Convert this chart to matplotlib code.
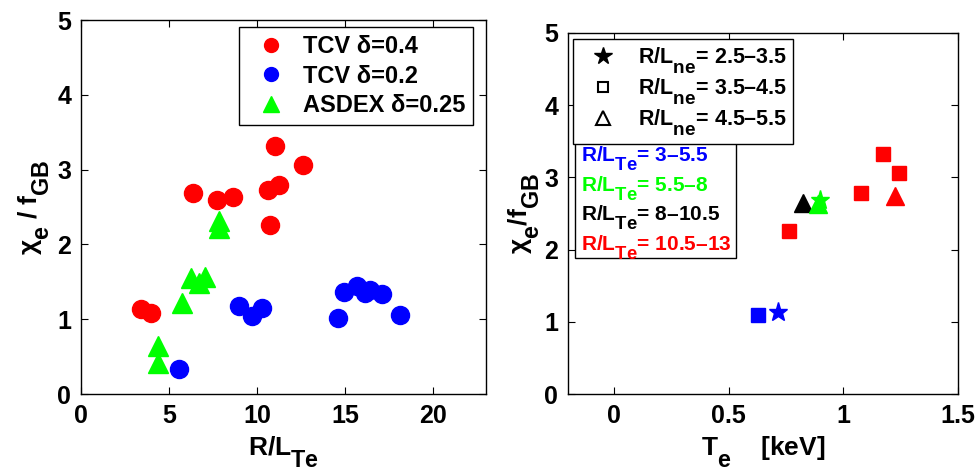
import matplotlib
matplotlib.use("Agg")
import matplotlib.pyplot as plt
from matplotlib.lines import Line2D
from matplotlib.patches import Rectangle
import matplotlib._mathtext as _mt

# MATLAB-like subscripts: larger and lower than TeX defaults
_mt.SHRINK_FACTOR = 0.88
_mt.FontConstantsBase.sub1 = 0.9
_mt.FontConstantsBase.subdrop = 0.6

plt.rcParams['font.family'] = ['Liberation Sans', 'DejaVu Sans']
plt.rcParams['font.weight'] = 'bold'
plt.rcParams['mathtext.fontset'] = 'custom'
plt.rcParams['mathtext.rm'] = 'Liberation Sans:bold'
plt.rcParams['mathtext.bf'] = 'Liberation Sans:bold'
plt.rcParams['mathtext.it'] = 'Liberation Sans:bold'
plt.rcParams['mathtext.sf'] = 'Liberation Sans:bold'

# ---------- left panel data ----------
tcv04_x = [3.4, 3.96, 6.36, 7.7, 8.62, 10.62, 11.26, 11.02, 10.75, 12.6]
tcv04_y = [1.135, 1.08, 2.69, 2.60, 2.64, 2.73, 2.79, 3.32, 2.26, 3.06]
tcv02_x = [5.57, 8.98, 9.72, 10.3, 14.62, 14.96, 15.66, 16.1, 16.4, 17.08, 18.1]
tcv02_y = [0.33, 1.17, 1.04, 1.15, 1.015, 1.37, 1.45, 1.35, 1.39, 1.34, 1.05]
asdex_x = [4.38, 4.38, 5.72, 6.23, 6.7, 7.02, 7.83, 7.83]
asdex_y = [0.64, 0.42, 1.21, 1.55, 1.48, 1.57, 2.31, 2.22]
left_labels = ['TCV δ=0.4', 'TCV δ=0.2', 'ASDEX δ=0.25']

# ---------- right panel data ----------
te_vals  = [0.628, 0.714, 0.765, 0.824, 0.89, 0.90, 1.076, 1.172, 1.243, 1.225]
chi_vals = [1.09, 1.13, 2.26, 2.65, 2.63, 2.69, 2.79, 3.32, 3.06, 2.74]
shape_grp = ['s', '*', 's', '^', '^', '*', 's', 's', 's', '^']
color_grp = ['#0000ff', '#0000ff', '#ff0000', '#000000', '#00ff00', '#00ff00',
             '#ff0000', '#ff0000', '#ff0000', '#ff0000']
rlne_labels = [r'R/L$_{\mathbf{ne}}$= 2.5–3.5', r'R/L$_{\mathbf{ne}}$= 3.5–4.5',
               r'R/L$_{\mathbf{ne}}$= 4.5–5.5']
rlte_labels = [r'R/L$_{\mathbf{Te}}$= 3–5.5', r'R/L$_{\mathbf{Te}}$= 5.5–8',
               r'R/L$_{\mathbf{Te}}$= 8–10.5', r'R/L$_{\mathbf{Te}}$= 10.5–13']
rlte_colors = ['#0000ff', '#00ff00', '#000000', '#ff0000']

W, H = 978, 470
fig = plt.figure(figsize=(W/100, H/100), dpi=100)

def px(x0, y0, x1, y1):
    return [x0/W, 1 - y1/H, (x1-x0)/W, (y1-y0)/H]

axL = fig.add_axes(px(81, 20, 486, 394))
axR = fig.add_axes(px(568, 33, 958, 394))

for ax in (axL, axR):
    ax.tick_params(direction='in', top=True, right=True, labelsize=18, length=5,
                   width=0.8, pad=7)
    for s in ax.spines.values():
        s.set_linewidth(1.0)

# left
axL.plot(tcv04_x, tcv04_y, 'o', color='#ff0000', ms=13, ls='none')
axL.plot(tcv02_x, tcv02_y, 'o', color='#0000ff', ms=13, ls='none')
axL.plot(asdex_x, asdex_y, '^', color='#00ff00', ms=15, ls='none')
axL.set_xlim(0, 23)
axL.set_ylim(0, 5)
axL.set_xticks([0, 5, 10, 15, 20])
axL.set_yticks([0, 1, 2, 3, 4, 5])
axL.set_xlabel(r'R/L$_{\mathbf{Te}}$', fontsize=19, fontweight='bold', labelpad=5)
axL.set_ylabel(r'$\chi_{\mathbf{e}}$ / f$_{\mathbf{GB}}$', fontsize=19, fontweight='bold', labelpad=4)
legL = axL.legend([Line2D([], [], marker='o', color='#ff0000', ls='none', ms=10),
                   Line2D([], [], marker='o', color='#0000ff', ls='none', ms=10),
                   Line2D([], [], marker='^', color='#00ff00', ls='none', ms=11.5)],
                  left_labels, loc='upper left',
                  bbox_to_anchor=(239/W, 1-27/H), bbox_transform=fig.transFigure,
                  borderaxespad=0, prop={'weight': 'bold', 'size': 17},
                  fancybox=False, edgecolor='black', framealpha=1,
                  handletextpad=0.35, labelspacing=0.27, borderpad=0.35, handlelength=2.0)
legL.get_frame().set_linewidth(1.0)

# right
for x, y, m, c in zip(te_vals, chi_vals, shape_grp, color_grp):
    size = {'s': 10, '*': 14, '^': 13}[m]
    axR.plot([x], [y], m, color=c, ms=size, ls='none')
axR.set_xlim(-0.2, 1.5)
axR.set_ylim(0, 5)
axR.set_xticks([0, 0.5, 1, 1.5])
axR.set_xticklabels(['0', '0.5', '1', '1.5'])
axR.set_yticks([0, 1, 2, 3, 4, 5])
axR.set_xlabel(r'T$_{\mathbf{e}}$    [keV]', fontsize=19, fontweight='bold', labelpad=5)
axR.set_ylabel(r'$\chi_{\mathbf{e}}$/f$_{\mathbf{GB}}$', fontsize=19, fontweight='bold', labelpad=2)

# frame of the colour-key box (top edge hidden under the marker legend)
axR.add_patch(Rectangle((575/W, 1-258/H), (736-575)/W, (258-140)/H,
                        transform=fig.transFigure, facecolor='white',
                        edgecolor='black', lw=1.0, zorder=4, clip_on=False))

leg2 = axR.legend([Line2D([], [], ls='none', marker='none')]*4, rlte_labels,
                  loc='upper left', bbox_to_anchor=(575/W, 1-138/H),
                  bbox_transform=fig.transFigure, borderaxespad=0,
                  prop={'weight': 'bold', 'size': 15}, frameon=False,
                  handlelength=0, handletextpad=0,
                  labelspacing=0.03, borderpad=0.3)
leg2.set_zorder(6)
for t, c in zip(leg2.get_texts(), rlte_colors):
    t.set_color(c)
axR.add_artist(leg2)

leg1 = axR.legend([Line2D([], [], marker='*', color='black', ls='none', ms=13),
                   Line2D([], [], marker='s', mfc='white', mec='black', mew=1.5, ls='none', ms=7),
                   Line2D([], [], marker='^', mfc='white', mec='black', mew=1.5, ls='none', ms=10)],
                  rlne_labels, loc='upper left',
                  bbox_to_anchor=(573/W, 1-39/H), bbox_transform=fig.transFigure,
                  borderaxespad=0, prop={'weight': 'bold', 'size': 15.5},
                  fancybox=False, edgecolor='black', framealpha=1,
                  handletextpad=0.5, labelspacing=0.0, borderpad=0.3, handlelength=2.2)
leg1.get_frame().set_linewidth(1.0)
leg1.set_zorder(7)

fig.savefig('out.png', dpi=100)
